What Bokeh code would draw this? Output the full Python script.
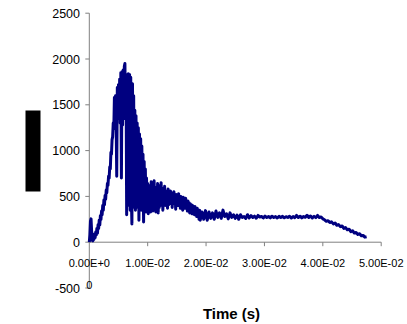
import numpy as np
from bokeh.plotting import figure
from bokeh.models import Range1d, ColumnDataSource
from bokeh.core.properties import value
from bokeh.embed import file_html
from bokeh.resources import INLINE

# ---------------- data ----------------
# segment 1: samples every 0.1 ms starting at 0 ms
seg1_start_ms = 0.0
seg1_step_ms = 0.1
seg1_values = [
    0, 80, 230, 255, 120, 20, 15, 60, 30, 90,
    50, 110, 80, 150, 100, 190, 150, 240, 190, 290,
    250, 340, 300, 400, 350, 460, 410, 510, 470, 570,
    540, 640, 620, 720, 700, 820, 800, 980, 960, 1120,
    1150, 1300, 1240, 1580, 1260, 1600, 1300, 720, 1690, 1350,
    1720, 1380, 1780, 1300, 1850, 700, 1860, 1280, 1880, 1350,
    1920, 1950, 1400, 1800, 300, 1830, 500, 1840, 400, 1830,
    350, 1800, 480, 200, 1730, 380, 1600, 420, 1440, 350,
    1380, 450, 1300, 380, 1250, 240, 1180, 400, 1130, 350,
    1050, 420, 960, 220, 880, 380, 800, 330, 700, 400,
    640, 310, 620, 380, 600, 330, 660, 360, 580, 340,
    620, 670, 380, 600, 330, 580, 360, 640, 320, 560,
    380, 620, 400, 650, 420, 590, 350, 570, 430, 610,
    400, 560, 440, 530, 370, 580, 410, 520, 450, 560,
    420, 540, 380, 510, 430, 550, 420, 490, 360, 520,
    410, 500, 400, 530, 420, 470, 370, 500, 410, 460,
    350, 490, 380, 470, 370, 480, 400, 440, 340, 450,
    360, 430, 320, 420, 350, 410, 310, 400, 340, 370,
    300, 390, 300, 360, 280, 370, 300, 340, 250, 350,
    240,
]
# segment 2: samples every 0.3 ms starting at 19.3 ms
seg2_start_ms = 19.3
seg2_step_ms = 0.3
seg2_values = [
    330, 250, 345, 240, 330, 260, 320, 250, 340, 270,
    320, 260, 350, 280, 310, 255, 320, 270, 300, 260,
    295, 250, 300, 270, 280, 260, 300, 265, 290, 270,
    285, 262, 292, 275, 280, 265, 285, 270, 280, 266,
    284, 270, 280, 264, 282, 270, 282, 266, 278, 270,
    284, 264, 280, 268, 292, 270, 284, 266, 280, 272,
    294, 270, 286, 264, 282, 268, 292, 270, 276, 255,
    245, 228, 235, 215, 222, 200, 210, 185, 192, 170,
    177, 150, 160, 135, 142, 115, 125, 100, 106, 85,
    92, 70, 74, 55, 60,
]

y_ticks = [-500, 0, 500, 1000, 1500, 2000, 2500]
y_tick_labels = ["-500", "0", "500", "1000", "1500", "2000", "2500"]
x_ticks = [0.0, 0.01, 0.02, 0.03, 0.04, 0.05]
x_tick_labels = ["0.00E+00", "1.00E-02", "2.00E-02", "3.00E-02", "4.00E-02", "5.00E-02"]
x_title = "Time (s)"

t_ms = np.concatenate([
    seg1_start_ms + seg1_step_ms * np.arange(len(seg1_values)),
    seg2_start_ms + seg2_step_ms * np.arange(len(seg2_values)),
])
t_s = t_ms / 1000.0
vals = np.array(seg1_values + seg2_values, dtype=float)

# ---------------- layout (pixel mapping) ----------------
W, H = 407, 324
X0_PX, X5_PX = 88.8, 380.7      # pixel of x=0 and x=0.05
Y0_PX, Y25_PX = 241.7, 12.7     # pixel of y=0 and y=2500
XPP = 0.05 / (X5_PX - X0_PX)
YPP = 2500.0 / (Y0_PX - Y25_PX)


def px_x(px):
    return (px - X0_PX) * XPP


def px_y(py):
    return (Y0_PX - py) * YPP


p = figure(width=W, height=H, output_backend="svg", toolbar_location=None,
           x_range=Range1d(px_x(0), px_x(W)), y_range=Range1d(px_y(H), px_y(0)),
           min_border=0)
p.axis.visible = False
p.xgrid.visible = False
p.ygrid.visible = False
p.outline_line_color = None
p.background_fill_color = "white"
p.border_fill_color = "white"

axis_color = "#808080"
font = value("Liberation Sans")

# y axis
p.segment(x0=[0], y0=[y_ticks[0]], x1=[0], y1=[y_ticks[-1]], line_color=axis_color, line_width=1)
p.segment(x0=[px_x(X0_PX - 4)] * len(y_ticks), y0=y_ticks, x1=[0] * len(y_ticks), y1=y_ticks,
          line_color=axis_color, line_width=1)
p.text(x=[px_x(79.5)] * len(y_ticks), y=y_ticks, text=y_tick_labels, text_font=font,
       text_font_size=value("12.5px"), text_align="right", text_baseline="middle", text_color="black")

# x axis at y=0
p.segment(x0=[x_ticks[0]], y0=[0], x1=[x_ticks[-1]], y1=[0], line_color=axis_color, line_width=1)
p.segment(x0=x_ticks[1:], y0=[0] * (len(x_ticks) - 1), x1=x_ticks[1:],
          y1=[px_y(Y0_PX + 4)] * (len(x_ticks) - 1), line_color=axis_color, line_width=1)
row_labels = [x_tick_labels[0][:-1]] + x_tick_labels[1:]
p.text(x=x_ticks, y=[px_y(262)] * len(x_ticks), text=row_labels, text_font=font,
       text_font_size=value("11px"), text_align="center", text_baseline="middle", text_color="black")
# wrapped last character of the first label
p.text(x=[x_ticks[0]], y=[px_y(284)], text=[x_tick_labels[0][-1:]], text_font=font,
       text_font_size=value("11px"), text_align="center", text_baseline="middle", text_color="black")

# x title
p.text(x=[px_x(231)], y=[px_y(312.5)], text=[x_title], text_font=font,
       text_font_size=value("15px"), text_font_style="bold", text_align="center",
       text_baseline="middle", text_color="black")

# redaction box over the y-axis title
p.quad(left=[px_x(25)], right=[px_x(40)], top=[px_y(110)], bottom=[px_y(191)],
       fill_color="black", line_color=None)

# data line
src = ColumnDataSource(dict(t=t_s, v=vals))
p.line("t", "v", source=src, line_color="#000080", line_width=3, line_join="round")

open("out.html", "w").write(file_html(p, INLINE))
